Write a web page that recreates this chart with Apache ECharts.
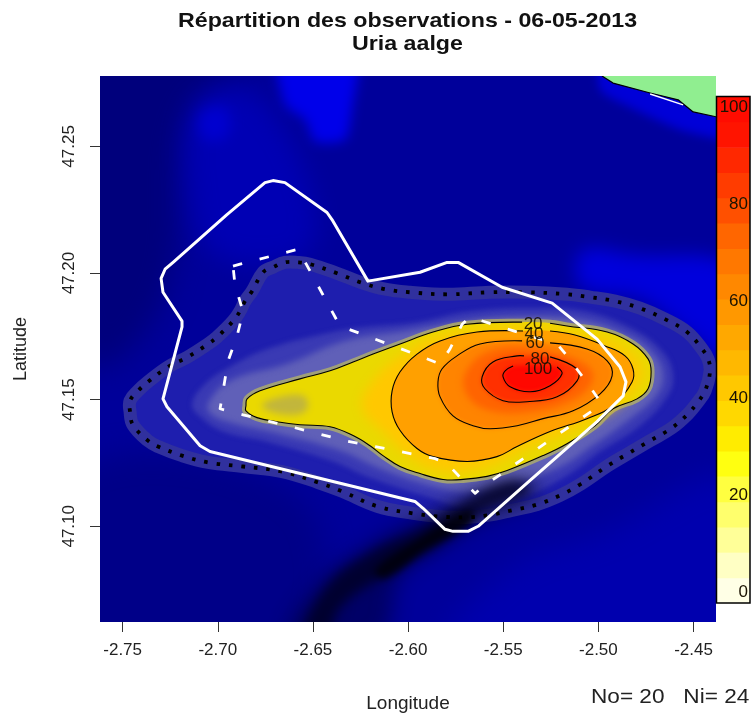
<!DOCTYPE html>
<html><head><meta charset="utf-8">
<style>html,body{margin:0;padding:0;background:#fff}#c{width:751px;height:718px}</style>
<script src="https://cdn.jsdelivr.net/npm/echarts@6/dist/echarts.min.js"></script>
</head><body><div id="c"></div>
<script>
const lonTicks=[-2.75,-2.70,-2.65,-2.60,-2.55,-2.50,-2.45];
const latTicks=[47.10,47.15,47.20,47.25];
const barTicks=[0,20,40,60,80,100];
const barBreaks=[-2.2,3.03,8.25,13.48,18.7,23.93,29.15,34.38,39.6,44.83,50.05,55.28,60.5,65.73,70.95,76.18,81.4,86.63,91.85,97.08,102.3];
const barColors=['#ffffe6','#ffffc4','#ffff98','#ffff6c','#ffff40','#ffff10','#ffec00','#ffd800','#ffc800','#ffb800','#ffa800','#ff9800','#ff8800','#ff7800','#ff6600','#ff5000','#ff3c00','#ff2800','#ff1400','#ff0c00'];

const landEdge=[[-2.4981,47.2778],[-2.4923,47.2750],[-2.4728,47.2711],[-2.4581,47.2684],[-2.4502,47.2636],[-2.4382,47.2617]];
const landCorner=[[-2.4382,47.2778]];
const coastWhite=[[-2.4728,47.2707],[-2.4555,47.2664]];

const bgTopLeft=[[-2.7719,47.2878],[-2.6726,47.2878],[-2.7146,47.2644],[-2.7251,47.1976],[-2.7514,47.1661],[-2.7719,47.1661]];
const bgBottomLeft=[[-2.7719,47.1228],[-2.6568,47.1110],[-2.6568,47.0522],[-2.7719,47.0522]];
const bgLowerRight=[[-2.5780,47.0522],[-2.5464,47.0835],[-2.4991,47.0972],[-2.4282,47.1189],[-2.4282,47.0522]];
const bgMidGlow=[[-2.7120,47.2644],[-2.6910,47.2723],[-2.6726,47.2644],[-2.6515,47.2329],[-2.6515,47.2094],[-2.6778,47.2035],[-2.7041,47.2094],[-2.7146,47.2329]];
const bgMidCore=[[-2.7093,47.2625],[-2.6962,47.2652],[-2.6946,47.2546],[-2.7067,47.2526]];
const bgTopPatch=[[-2.6689,47.2878],[-2.6268,47.2878],[-2.6295,47.2644],[-2.6331,47.2526],[-2.6489,47.2518],[-2.6542,47.2605],[-2.6647,47.2664]];
const bgRightPatch=[[-2.5070,47.2094],[-2.4834,47.2074],[-2.4282,47.2015],[-2.4282,47.1641],[-2.4518,47.1759],[-2.4781,47.1897],[-2.5070,47.1936],[-2.5123,47.2015]];
const bgCoast=[[-2.4991,47.2878],[-2.4282,47.2644],[-2.4282,47.2526],[-2.4571,47.2566],[-2.4860,47.2664],[-2.4991,47.2723]];
const trenchWide=[[-2.6620,47.0559],[-2.6463,47.0776],[-2.6189,47.0933],[-2.5937,47.1031],[-2.5674,47.1130],[-2.5359,47.1189],[-2.5307,47.1130],[-2.5622,47.1012],[-2.5832,47.0913],[-2.6042,47.0795],[-2.6147,47.0559]];
const trench=[[-2.6568,47.0522],[-2.6436,47.0756],[-2.6189,47.0902],[-2.5937,47.0992],[-2.5727,47.1090],[-2.5464,47.1181],[-2.5359,47.1142],[-2.5622,47.1051],[-2.5832,47.0933],[-2.6095,47.0815],[-2.6358,47.0677],[-2.6436,47.0522]];
const trenchCore=[[-2.6174,47.0827],[-2.5937,47.0953],[-2.5674,47.1063],[-2.5674,47.1012],[-2.5911,47.0906],[-2.6121,47.0795]];

const solidTrack=[[-2.6211,47.1968],[-2.6400,47.2211],[-2.6426,47.2239],[-2.6647,47.2357],[-2.6710,47.2365],[-2.6752,47.2357],[-2.6952,47.2231],[-2.7235,47.2042],[-2.7277,47.2015],[-2.7298,47.1979],[-2.7288,47.1924],[-2.7188,47.1810],[-2.7188,47.1787],[-2.7288,47.1503],[-2.7267,47.1472],[-2.7093,47.1318],[-2.7041,47.1295],[-2.5964,47.1098],[-2.5921,47.1071],[-2.5806,47.0988],[-2.5764,47.0980],[-2.5685,47.0980],[-2.5632,47.1000],[-2.5359,47.1181],[-2.5007,47.1413],[-2.4870,47.1515],[-2.4855,47.1570],[-2.4886,47.1629],[-2.5007,47.1739],[-2.5243,47.1881],[-2.5506,47.1944],[-2.5737,47.2042],[-2.5795,47.2042],[-2.5937,47.2003]];
const dashedTrack=[[-2.6920,47.2027],[-2.6883,47.2035],[-2.6578,47.2094],[-2.6358,47.1791],[-2.5964,47.1680],[-2.5832,47.1641],[-2.5780,47.1700],[-2.5716,47.1798],[-2.5674,47.1826],[-2.5480,47.1779],[-2.5217,47.1720],[-2.5165,47.1673],[-2.5044,47.1551],[-2.4991,47.1492],[-2.5002,47.1472],[-2.5606,47.1157],[-2.5648,47.1130],[-2.5795,47.1248],[-2.5858,47.1267],[-2.6042,47.1295],[-2.6331,47.1338],[-2.6594,47.1389],[-2.6867,47.1440],[-2.6988,47.1464],[-2.6946,47.1653],[-2.6899,47.1751],[-2.6867,47.1846],[-2.6910,47.1956]];

const level5=[[-2.7461,47.1452],[-2.7461,47.1496],[-2.7419,47.1535],[-2.7367,47.1570],[-2.7262,47.1629],[-2.7157,47.1669],[-2.7051,47.1720],[-2.7004,47.1747],[-2.6920,47.1810],[-2.6883,47.1850],[-2.6857,47.1889],[-2.6820,47.1928],[-2.6762,47.2003],[-2.6710,47.2023],[-2.6647,47.2042],[-2.6578,47.2042],[-2.6515,47.2035],[-2.6373,47.1999],[-2.6253,47.1964],[-2.6121,47.1936],[-2.5990,47.1924],[-2.5790,47.1916],[-2.5569,47.1924],[-2.5370,47.1924],[-2.5165,47.1916],[-2.5044,47.1905],[-2.4912,47.1889],[-2.4781,47.1861],[-2.4650,47.1818],[-2.4534,47.1767],[-2.4455,47.1700],[-2.4424,47.1661],[-2.4413,47.1614],[-2.4439,47.1535],[-2.4476,47.1492],[-2.4529,47.1444],[-2.4613,47.1389],[-2.4728,47.1338],[-2.4844,47.1287],[-2.4949,47.1240],[-2.5096,47.1165],[-2.5201,47.1122],[-2.5322,47.1086],[-2.5454,47.1063],[-2.5585,47.1043],[-2.5701,47.1035],[-2.5843,47.1039],[-2.5974,47.1051],[-2.6163,47.1079],[-2.6347,47.1138],[-2.6473,47.1173],[-2.6662,47.1216],[-2.6867,47.1236],[-2.7051,47.1252],[-2.7188,47.1279],[-2.7314,47.1315],[-2.7367,47.1338],[-2.7446,47.1401]];
const ringA=[[-2.7135,47.1484],[-2.7067,47.1562],[-2.6936,47.1629],[-2.6741,47.1700],[-2.6394,47.1767],[-2.6216,47.1787],[-2.5953,47.1806],[-2.5690,47.1846],[-2.5375,47.1861],[-2.5080,47.1850],[-2.4818,47.1779],[-2.4660,47.1688],[-2.4607,47.1594],[-2.4639,47.1511],[-2.4781,47.1397],[-2.4991,47.1295],[-2.5165,47.1200],[-2.5412,47.1110],[-2.5690,47.1071],[-2.5869,47.1110],[-2.6216,47.1197],[-2.6394,47.1256],[-2.6741,47.1334],[-2.6973,47.1374],[-2.7093,47.1433]];
const ringB=[[-2.7051,47.1484],[-2.6936,47.1574],[-2.6636,47.1641],[-2.6331,47.1732],[-2.6042,47.1767],[-2.5690,47.1810],[-2.5375,47.1826],[-2.5080,47.1814],[-2.4834,47.1751],[-2.4702,47.1673],[-2.4660,47.1590],[-2.4702,47.1511],[-2.4834,47.1425],[-2.5033,47.1318],[-2.5201,47.1236],[-2.5517,47.1149],[-2.5690,47.1134],[-2.5885,47.1161],[-2.6147,47.1228],[-2.6358,47.1299],[-2.6726,47.1374],[-2.6910,47.1405],[-2.7030,47.1440]];
const level20=[[-2.5254,47.1802],[-2.5165,47.1791],[-2.4954,47.1767],[-2.4818,47.1720],[-2.4739,47.1661],[-2.4723,47.1610],[-2.4739,47.1543],[-2.4797,47.1503],[-2.4923,47.1464],[-2.5018,47.1397],[-2.5165,47.1326],[-2.5291,47.1279],[-2.5480,47.1220],[-2.5585,47.1197],[-2.5711,47.1185],[-2.5816,47.1185],[-2.5937,47.1208],[-2.6042,47.1236],[-2.6132,47.1279],[-2.6200,47.1318],[-2.6289,47.1358],[-2.6410,47.1393],[-2.6568,47.1401],[-2.6689,47.1413],[-2.6794,47.1429],[-2.6852,47.1456],[-2.6852,47.1476],[-2.6846,47.1503],[-2.6778,47.1535],[-2.6568,47.1582],[-2.6410,47.1614],[-2.6289,47.1649],[-2.6184,47.1680],[-2.6042,47.1720],[-2.5869,47.1767],[-2.5690,47.1798],[-2.5401,47.1806]];
const oliveCore=[[-2.6768,47.1476],[-2.6647,47.1515],[-2.6542,47.1511],[-2.6536,47.1456],[-2.6647,47.1440]];
const level30=[[-2.6242,47.1472],[-2.6174,47.1582],[-2.6042,47.1669],[-2.5832,47.1751],[-2.5412,47.1787],[-2.5044,47.1755],[-2.4860,47.1700],[-2.4770,47.1614],[-2.4834,47.1523],[-2.5044,47.1413],[-2.5359,47.1315],[-2.5622,47.1228],[-2.5832,47.1220],[-2.5990,47.1275],[-2.6121,47.1366]];
const level40=[[-2.5254,47.1771],[-2.5123,47.1755],[-2.4965,47.1712],[-2.4860,47.1673],[-2.4818,47.1621],[-2.4823,47.1570],[-2.4923,47.1476],[-2.5060,47.1425],[-2.5254,47.1374],[-2.5427,47.1315],[-2.5533,47.1275],[-2.5690,47.1256],[-2.5869,47.1275],[-2.5953,47.1307],[-2.6042,47.1378],[-2.6084,47.1452],[-2.6084,47.1535],[-2.6042,47.1610],[-2.5953,47.1680],[-2.5832,47.1732],[-2.5638,47.1767],[-2.5396,47.1771]];
const level60=[[-2.5254,47.1724],[-2.5060,47.1700],[-2.4954,47.1653],[-2.4928,47.1594],[-2.4991,47.1523],[-2.5133,47.1456],[-2.5291,47.1425],[-2.5427,47.1397],[-2.5569,47.1385],[-2.5659,47.1397],[-2.5764,47.1436],[-2.5832,47.1511],[-2.5843,47.1570],[-2.5822,47.1621],[-2.5743,47.1673],[-2.5622,47.1720],[-2.5401,47.1732]];
const level70=[[-2.5701,47.1602],[-2.5569,47.1692],[-2.5307,47.1700],[-2.5070,47.1641],[-2.5028,47.1582],[-2.5123,47.1503],[-2.5359,47.1452],[-2.5569,47.1456],[-2.5685,47.1511]];
const level80=[[-2.5254,47.1669],[-2.5112,47.1621],[-2.5112,47.1574],[-2.5217,47.1511],[-2.5375,47.1492],[-2.5501,47.1496],[-2.5596,47.1543],[-2.5611,47.1590],[-2.5554,47.1649],[-2.5427,47.1673],[-2.5391,47.1673]];
const level100=[[-2.5217,47.1629],[-2.5191,47.1602],[-2.5254,47.1555],[-2.5359,47.1531],[-2.5464,47.1551],[-2.5501,47.1590],[-2.5490,47.1614],[-2.5448,47.1633]];
const contourLabels=[['20',-2.5343,47.1798],['40',-2.5338,47.1759],['60',-2.5333,47.1724],['80',-2.5307,47.1661],['100',-2.5317,47.1621]];

const lonMin=-2.7619,lonMax=-2.4382,latMin=47.0622,latMax=47.2778;
const F='"Liberation Sans",Arial,sans-serif';

const layers=[];
const fill=(pts,color,smooth,stroke,sw)=>layers.push({kind:'poly',pts,color,smooth:smooth===undefined?0.4:smooth,stroke:stroke||null,sw:sw||0});
const soft=(pts,color,blur,smooth)=>layers.push({kind:'poly',pts,color,blur,soft:true,smooth:smooth===undefined?0.4:smooth});
const line=(pts,color,width,dash,closed,smooth)=>layers.push({kind:closed?'poly':'line',pts,color:'none',smooth:smooth||0,stroke:color,sw:width,dash});
soft(bgTopLeft,'#00007c',30);
soft(bgBottomLeft,'#000088',30);
soft(bgLowerRight,'#0000ae',30);
soft(bgMidGlow,'#0000b4',26);
soft(bgMidCore,'#0000d0',14);
soft(bgTopPatch,'#0000ea',12,0.2);
soft(bgRightPatch,'#0000dc',18);
soft(bgCoast,'#0000d8',10,0.2);
fill(level5,'#1e1eae',0.4,'#30309e',13);
soft(ringA,'#3a3ab4',5);
soft(ringB,'#6060b8',6);
soft(trenchWide,'rgba(0,0,50,0.7)',20);
soft(trench,'rgba(0,0,28,0.85)',12);
soft(trenchCore,'rgba(0,0,8,0.9)',7);
fill(level20,'#b8b470',0.4,'rgba(170,170,110,0.85)',7);
fill(level20,'#ead900',0.4);
soft(oliveCore,'#c2b63c',7);
soft(level30,'#ffc800',12);
fill(level40,'#ffa000',0.4);
soft(level60,'#ff8400',4);
soft(level70,'#ff6400',7);
soft(level80,'#ff3000',4);
soft(level100,'#ff0800',4);
fill(landEdge.concat(landCorner),'#90ee90',0);
line(landEdge,'#000',1.2);
line(coastWhite,'#fff',1.5);
line(level5,'#000',3.8,[3.5,9],true,0.4);
line(level20,'#000',1.1,null,false,0.4);
line(level40,'#000',1.1,null,false,0.4);
line(level60,'#000',1.1,null,false,0.4);
line(level80,'#000',1.1,null,false,0.4);
line(level100,'#000',1.1,null,false,0.4);
line(solidTrack,'#fff',3,null,true,0);
line(dashedTrack,'#fff',2.8,[9.5,18],true,0);

const OFF=3000;
function renderLayer(params,api){
  const l=layers[params.dataIndex];
  const points=l.pts.map(p=>api.coord(p));
  const style={fill:l.kind==='line'?'none':l.color,stroke:l.stroke||'none',lineWidth:l.sw||0,lineJoin:'round',lineCap:'butt'};
  if(l.dash) style.lineDash=l.dash;
  const el={type:l.kind==='line'?'polyline':'polygon',shape:{points,smooth:l.smooth},style,silent:true};
  if(l.soft){style.shadowBlur=l.blur;style.shadowColor=l.color;style.shadowOffsetX=OFF;el.x=-OFF;}
  return el;
}
function renderLabel(params,api){
  const c=contourLabels[params.dataIndex];
  const p=api.coord([c[1],c[2]]);
  return {type:'text',style:{text:c[0],x:p[0],y:p[1],font:'17px '+F,fill:'rgba(20,15,0,0.88)',align:'center',verticalAlign:'middle'},silent:true};
}
function renderBar(params,api){
  const i=params.dataIndex;
  const a=api.coord([0,barBreaks[i]]),b=api.coord([1,barBreaks[i+1]]);
  return {type:'rect',shape:{x:a[0],y:b[1],width:b[0]-a[0],height:a[1]-b[1]+0.5},style:{fill:barColors[i]},silent:true};
}
const tickStyle={show:true,length:10,lineStyle:{color:'#333',width:1}};
const labelFont={fontFamily:F,fontSize:17,color:'#222'};
const chart=echarts.init(document.getElementById('c'),null,{renderer:'canvas'});
chart.setOption({
  animation:false,
  backgroundColor:'#fff',
  graphic:[
    {type:'text',left:178,top:11,scaleX:1.105,style:{text:'Répartition des observations - 06-05-2013',font:'bold 21px '+F,fill:'#111'}},
    {type:'text',left:352,top:34,scaleX:1.105,style:{text:'Uria aalge',font:'bold 21px '+F,fill:'#111'}},
    {type:'text',left:591,top:687,scaleX:1.13,style:{text:'No= 20   Ni= 24',font:'20px '+F,fill:'#222'}}
  ],
  grid:[
    {left:100,top:76,width:616,height:548,show:true,backgroundColor:'#00009a',borderWidth:0},
    {left:716.5,top:96.5,width:33.5,height:506.5,show:false}
  ],
  xAxis:[
    {gridIndex:0,type:'value',min:lonMin,max:lonMax,splitLine:{show:false},axisLine:{show:false},
     axisTick:Object.assign({customValues:lonTicks},tickStyle),
     axisLabel:Object.assign({customValues:lonTicks,margin:20,formatter:v=>v.toFixed(2)},labelFont),
     name:'Longitude',nameLocation:'middle',nameGap:72,nameTextStyle:{fontFamily:F,fontSize:19,color:'#222'}},
    {gridIndex:1,type:'value',min:0,max:1,show:false}
  ],
  yAxis:[
    {gridIndex:0,type:'value',min:latMin,max:latMax,splitLine:{show:false},axisLine:{show:false},
     axisTick:Object.assign({customValues:latTicks},tickStyle),
     axisLabel:Object.assign({customValues:latTicks,margin:22,rotate:90,formatter:v=>v.toFixed(2)},labelFont),
     name:'Latitude',nameLocation:'middle',nameGap:70,nameRotate:90,nameTextStyle:{fontFamily:F,fontSize:18,color:'#222'}},
    {gridIndex:1,type:'value',position:'right',min:-2.2,max:102.3,z:20,splitLine:{show:false},axisLine:{show:false},axisTick:{show:false},
     axisLabel:Object.assign({customValues:barTicks,inside:true,margin:2,align:'right'},labelFont,{color:'#1a1200'})}
  ],
  series:[
    {type:'custom',xAxisIndex:0,yAxisIndex:0,clip:true,silent:true,z:2,renderItem:renderLayer,data:layers.map((l,i)=>[i])},
    {type:'custom',xAxisIndex:0,yAxisIndex:0,clip:true,silent:true,z:3,renderItem:renderLabel,data:contourLabels.map((l,i)=>[i])},
    {type:'custom',xAxisIndex:1,yAxisIndex:1,clip:false,silent:true,z:4,renderItem:renderBar,data:barColors.map((c,i)=>[i])},
    {type:'custom',xAxisIndex:1,yAxisIndex:1,clip:false,silent:true,z:5,data:[[0]],renderItem:(p,api)=>{
      const a=api.coord([0,-2.2]),b=api.coord([1,102.3]);
      return {type:'rect',shape:{x:a[0],y:b[1],width:b[0]-a[0],height:a[1]-b[1]},style:{fill:'none',stroke:'#000',lineWidth:1.5},silent:true};
    }}
  ]
});
</script></body></html>
